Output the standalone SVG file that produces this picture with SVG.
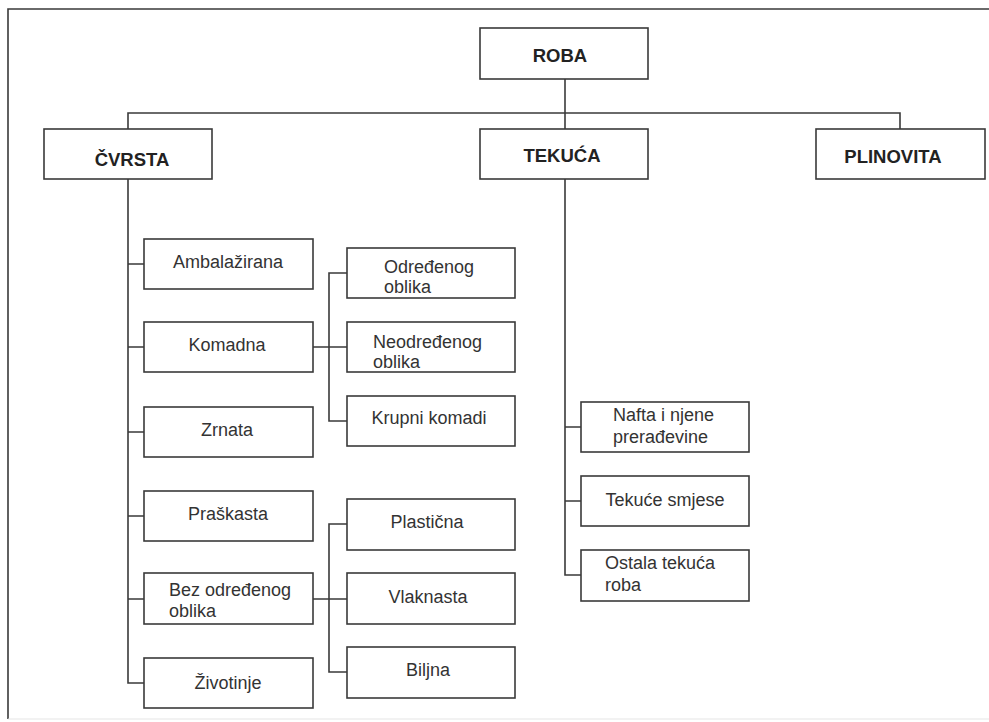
<svg xmlns="http://www.w3.org/2000/svg" width="989" height="722" viewBox="0 0 989 722">
<style>
.box{fill:#fff;stroke:#3a3a3a;stroke-width:1.6}
.ln{fill:none;stroke:#3a3a3a;stroke-width:1.6}
.h{font-family:"Liberation Sans",Arial,sans-serif;font-weight:bold;font-size:18.5px;fill:#222;text-anchor:middle}
.t{font-family:"Liberation Sans",Arial,sans-serif;font-size:18px;fill:#333;text-anchor:middle}
.tl{font-family:"Liberation Sans",Arial,sans-serif;font-size:18px;fill:#333}
</style>
<rect width="989" height="722" fill="#fff"/>
<g id="frame">
<path d="M989 9 H8 V719" fill="none" stroke="#3a3a3a" stroke-width="1.6"/>
<path d="M8 719 H989" fill="none" stroke="#e6e6e6" stroke-width="1.2"/>
</g>
<g id="connectors">
<path class="ln" d="M565 79 V113"/>
<path class="ln" d="M128 129 V113 H900 V129"/>
<path class="ln" d="M565 113 V129"/>
<path class="ln" d="M128 179 V683 H144"/>
<path class="ln" d="M128 264 H144 M128 347 H144 M128 432 H144 M128 516 H144 M128 599 H144"/>
<path class="ln" d="M313 347 H347 M347 273 H329 V421 H347"/>
<path class="ln" d="M313 599 H347 M347 524 H329 V672 H347"/>
<path class="ln" d="M565 179 V575 H581 M565 427 H581 M565 501 H581"/>
</g>
<g id="n-roba"><rect class="box" x="480" y="28" width="168" height="51"/><text class="h" x="560" y="62">ROBA</text></g>
<g id="n-cvrsta"><rect class="box" x="44" y="129" width="168" height="50"/><text class="h" x="132" y="166">ČVRSTA</text></g>
<g id="n-tekuca"><rect class="box" x="480" y="129" width="168" height="50"/><text class="h" x="562" y="162">TEKUĆA</text></g>
<g id="n-plinovita"><rect class="box" x="816" y="129" width="169" height="50"/><text class="h" x="893" y="163">PLINOVITA</text></g>

<g id="n-ambalazirana"><rect class="box" x="144" y="239" width="169" height="50"/><text class="t" x="228" y="268">Ambalažirana</text></g>
<g id="n-komadna"><rect class="box" x="144" y="322" width="169" height="50"/><text class="t" x="227" y="351">Komadna</text></g>
<g id="n-zrnata"><rect class="box" x="144" y="407" width="169" height="50"/><text class="t" x="227" y="436">Zrnata</text></g>
<g id="n-praskasta"><rect class="box" x="144" y="491" width="169" height="50"/><text class="t" x="228" y="520">Praškasta</text></g>
<g id="n-bez"><rect class="box" x="144" y="573" width="169" height="51"/><text class="tl" x="169" y="596">Bez određenog</text><text class="tl" x="169" y="617">oblika</text></g>
<g id="n-zivotinje"><rect class="box" x="144" y="658" width="169" height="50"/><text class="t" x="228" y="689">Životinje</text></g>

<g id="n-odredenog"><rect class="box" x="347" y="248" width="168" height="50"/><text class="tl" x="384" y="273">Određenog</text><text class="tl" x="384" y="293">oblika</text></g>
<g id="n-neodredenog"><rect class="box" x="347" y="322" width="168" height="50"/><text class="tl" x="373" y="348">Neodređenog</text><text class="tl" x="373" y="368">oblika</text></g>
<g id="n-krupni"><rect class="box" x="347" y="396" width="168" height="50"/><text class="t" x="429" y="424">Krupni komadi</text></g>

<g id="n-plasticna"><rect class="box" x="347" y="499" width="168" height="51"/><text class="t" x="427" y="528">Plastična</text></g>
<g id="n-vlaknasta"><rect class="box" x="347" y="573" width="168" height="51"/><text class="t" x="428" y="603">Vlaknasta</text></g>
<g id="n-biljna"><rect class="box" x="347" y="647" width="168" height="51"/><text class="t" x="428" y="676">Biljna</text></g>

<g id="n-nafta"><rect class="box" x="581" y="402" width="168" height="50"/><text class="tl" x="613" y="421">Nafta i njene</text><text class="tl" x="613" y="443">prerađevine</text></g>
<g id="n-smjese"><rect class="box" x="581" y="476" width="168" height="50"/><text class="t" x="665" y="506">Tekuće smjese</text></g>
<g id="n-ostala"><rect class="box" x="581" y="550" width="168" height="51"/><text class="tl" x="605" y="569">Ostala tekuća</text><text class="tl" x="605" y="591">roba</text></g>
</svg>
